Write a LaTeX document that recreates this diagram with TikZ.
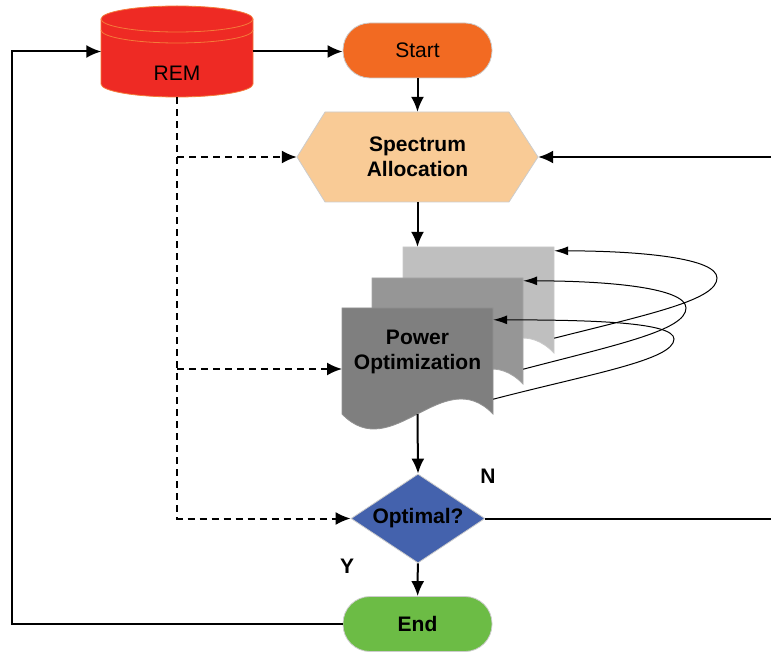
\documentclass[tikz,border=0pt]{standalone}
\usepackage{fontspec}
\setmainfont{Liberation Sans}
\usetikzlibrary{arrows.meta,shapes.geometric}

\definecolor{remred}{HTML}{EE2A24}
\definecolor{remedge}{HTML}{F47B3A}
\definecolor{startorange}{HTML}{F26A22}
\definecolor{specpeach}{HTML}{F9CB96}
\definecolor{pagea}{HTML}{7F7F7F}
\definecolor{pageb}{HTML}{969696}
\definecolor{pagec}{HTML}{BFBFBF}
\definecolor{optblue}{HTML}{4462AD}
\definecolor{endgreen}{HTML}{6CBC45}

\tikzset{
  flow/.style={line width=2pt, -{Latex[length=15pt,width=13pt]}},
  dflow/.style={line width=2pt, dash pattern=on 7pt off 5pt, -{Latex[length=15pt,width=13pt]}},
  loopback/.style={line width=1pt, -{Latex[length=14pt,width=9pt]}},
  txt/.style={font=\fontsize{21}{25}\selectfont, align=center},
  lbl/.style={font=\fontsize{21}{25}\selectfont\bfseries, align=center},
  pill/.style={rectangle, rounded corners=27pt, minimum width=149, minimum height=55, draw=gray!40, line width=0.8pt},
  pagebox/.style={rectangle, inner sep=0, minimum width=151, minimum height=106}
}

\begin{document}
\begin{tikzpicture}[x=1pt,y=1pt]
\useasboundingbox (0,0) rectangle (771,-652);

\filldraw[fill=remred, draw=remedge, line width=0.8pt] (101,-19) -- (101,-84) arc[start angle=180,end angle=360,x radius=76,y radius=13] -- (253,-19) arc[start angle=0,end angle=180,x radius=76,y radius=13] -- cycle;
\draw[remedge, line width=0.8pt] (101,-19) arc[start angle=180,end angle=360,x radius=76,y radius=13];
\draw[remedge, line width=0.8pt] (101,-30) arc[start angle=180,end angle=360,x radius=76,y radius=13];
\node[pagebox, minimum height=91] (rem) at (177,-51.5) {};
\node[txt] (remlbl) at (177,-73) {REM};

\node[pill, txt, fill=startorange] (start) at (417.5,-50.5) {Start};

\fill[specpeach, draw=gray!40, line width=0.8pt] (297,-157) -- (325,-112) -- (509,-112) -- (538,-157) -- (509,-202) -- (325,-202) -- cycle;
\node[lbl, inner sep=0, minimum width=241, minimum height=90] (spec) at (417.5,-157) {Spectrum\\Allocation};

\foreach \n/\x/\y/\c in {pgc/403/247/pagec, pgb/372/278/pageb, pga/342/308/pagea}{
  \fill[\c, draw=\c!85!white, line width=0.8pt] (\x,-\y) -- ++(151,0) -- ++(0,-106)
    .. controls +(-50,52) and +(50,-52) .. ++(-151,0) -- cycle;
  \node[pagebox] (\n) at (\x+75.5,-\y-53) {};
}
\node[lbl] (pwr) at (417.5,-352) {Power\\Optimization};
\coordinate (pwrin) at (342,-369);

\node[diamond, aspect=1.5, inner sep=0, minimum width=134, minimum height=89, fill=optblue, draw=gray!40, line width=0.8pt, lbl] (opt) at (418,-518.5) {Optimal?};
\node[lbl] (nlbl) at (488,-476) {N};
\node[lbl] (ylbl) at (347,-566) {Y};

\node[pill, lbl, fill=endgreen] (end) at (417.5,-624) {End};

\coordinate (rtop) at (771,-157);
\coordinate (rbot) at (771,-518.5);
\coordinate (lcorner) at (12,-624);

\draw[flow] (rem.east) -- (rem.east -| start.west);
\draw[flow] (start) -- (spec);
\draw[flow] (spec.south) -- (spec.south |- pgc.north);
\draw[flow] (pga.south) -- (opt.north);
\draw[flow] (opt) -- (end);
\draw[line width=2pt] (opt.east) -- (rbot);
\draw[flow] (rtop) -- (spec.east);
\draw[flow] (end.west) -- (lcorner) |- (rem.west);

\draw[dflow] (rem.south) |- (opt.west);
\draw[dflow] (rem.south |- spec.west) -- (spec.west);
\draw[dflow] (rem.south |- pwrin) -- (pwrin);

\draw[loopback] ([yshift=15pt]pgc.south east) .. controls (650,-314) and (717,-300) .. (717,-278) .. controls (717,-258) and (640,-251) .. ([yshift=-4pt]pgc.north east);
\draw[loopback] ([yshift=15pt]pgb.south east) .. controls (620,-344) and (686,-330) .. (686,-308) .. controls (686,-288) and (610,-281) .. ([yshift=-3pt]pgb.north east);
\draw[loopback] ([yshift=15pt]pga.south east) .. controls (590,-374) and (674,-360) .. (674,-339) .. controls (674,-322) and (590,-320) .. ([yshift=-12pt]pga.north east);
\end{tikzpicture}
\end{document}
